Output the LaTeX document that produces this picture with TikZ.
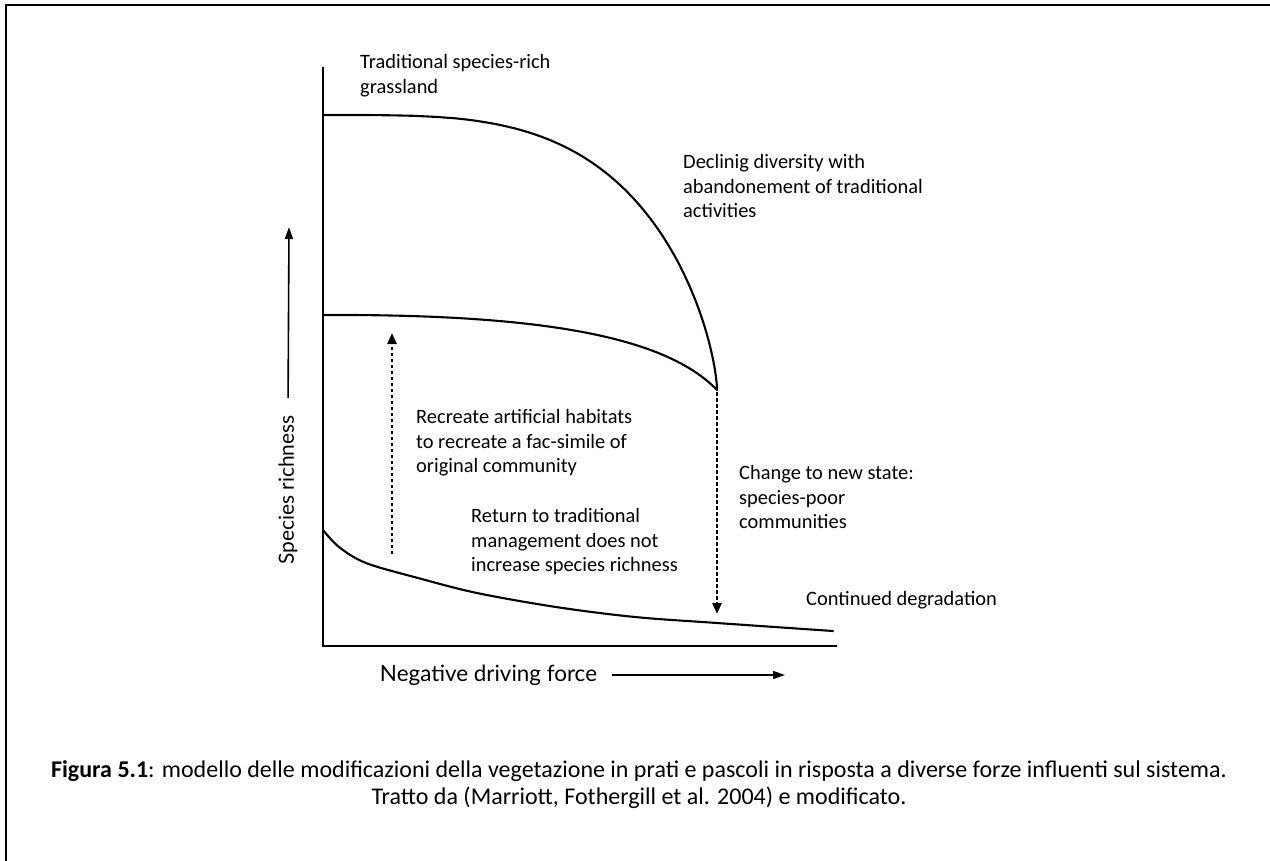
\documentclass[tikz,border=0pt]{standalone}
\usepackage{fontspec}
\setmainfont{Carlito}
\newfontfamily\axisfont{Lato}
\usetikzlibrary{arrows.meta}
\begin{document}
\begin{tikzpicture}[x=1bp,y=-1bp,
  lbl/.style={anchor=north west,inner sep=0pt,align=left,font=\fontsize{20.5}{24.6}\selectfont},
  curve/.style={line width=2.1bp,line join=round,line cap=round},
  axisline/.style={line width=2.6bp},
  framel/.style={line width=2.5bp},
  dotarrow/.style={line width=2.6bp,dash pattern=on 3.5bp off 2.5bp,-{Triangle[length=11bp,width=9bp]}},
  solidarrow/.style={line width=1.6bp,-{Triangle[length=12bp,width=8bp]}},
  axlbl/.style={inner sep=0pt,font=\axisfont\fontsize{#1}{24}\selectfont},
  caption/.style={anchor=north,inner sep=0pt,align=center,font=\fontsize{24.1}{27}\selectfont}]
\newcommand{\lh}{\rule{0pt}{0.8em}}
\useasboundingbox (0,0) rectangle (1270,861);
\fill[white] (0,0) rectangle (1270,861);
% frame (top and left edges visible)
\coordinate (frTR) at (1270,5);
\coordinate (frTL) at (6,5);
\coordinate (frBL) at (6,861);
\draw[framel] (frTR) -- (frTL) -- (frBL);
% axes
\coordinate (ytop) at (323,67);
\coordinate (orig) at (323,646);
\coordinate (xend) at (837,646);
\draw[axisline] (ytop) -- (orig) -- (xend);
% curves
\coordinate (topstart) at (323,115);
\coordinate (midstart) at (323,315);
\coordinate (cusp) at (717,390);
\draw[curve] (topstart) -- plot[domain=1:89,samples=120,variable=\a]
   ({323+394*(sin(\a))^0.548},{390-275*(cos(\a))^1.333}) -- (cusp);
\draw[curve] (midstart) .. controls (540,314) and (665,336) .. (cusp);
\draw[curve] plot[smooth,tension=0.55] coordinates {(323,530) (339,547) (366,563) (418,578) (477,593) (556,607) (635,617) (717,623) (833,631)};
% dotted arrows
\coordinate (upA) at (392,554);
\coordinate (upB) at (392,333);
\draw[dotarrow] (upA) -- (upB);
\coordinate (downtip) at (717,614);
\draw[dotarrow,shorten <=2bp] (cusp) -- (downtip);
% labels
\node[lbl] (trad) at (360,52) {\lh Traditional species-rich\\grassland};
\node[lbl] (decl) at (683,152) {\lh Declinig diversity with\\abandonement of traditional\\activities};
\node[lbl] (recr) at (416,407) {\lh Recreate artificial habitats\\to recreate a fac-simile of\\original community};
\node[lbl] (ret) at (471,506) {\lh Return to traditional\\management does not\\increase species richness};
\node[lbl] (chg) at (739,463) {\lh Change to new state:\\species-poor\\communities};
\node[lbl] (cont) at (806,589) {\lh Continued degradation};
% axis labels
\node[axlbl=21,rotate=90] (ylabel) at (288,490) {Species richness};
\coordinate (ytip) at (289,227);
\draw[solidarrow,shorten <=17bp] (ylabel.east) -- (ytip);
\node[axlbl=22.5] (xlabel) at (488.5,675) {Negative driving force};
\coordinate (xtip) at (785,675);
\draw[solidarrow,shorten <=15bp] (xlabel.east) -- (xtip);
% caption
\node[caption] (cap) at (639,758.5) {\lh\textbf{Figura 5.1}: modello delle modificazioni della vegetazione in prati e pascoli in risposta a diverse forze influenti sul sistema.\\Tratto da (Marriott, Fothergill et al. 2004) e modificato.};
\end{tikzpicture}
\end{document}
